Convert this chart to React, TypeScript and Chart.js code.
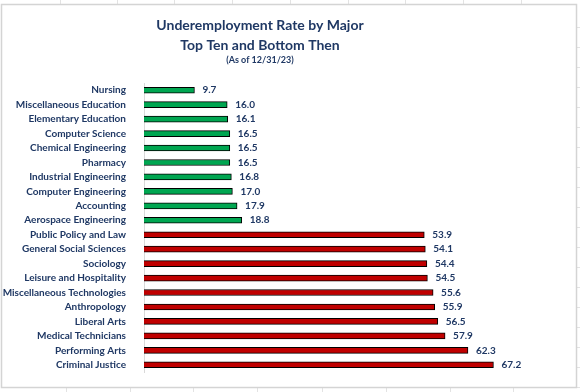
import React, { useEffect, useRef } from "react";
import { Chart, registerables } from "chart.js";

Chart.register(...registerables);

const categories = [
  "Nursing",
  "Miscellaneous Education",
  "Elementary Education",
  "Computer Science",
  "Chemical Engineering",
  "Pharmacy",
  "Industrial Engineering",
  "Computer Engineering",
  "Accounting",
  "Aerospace Engineering",
  "Public Policy and Law",
  "General Social Sciences",
  "Sociology",
  "Leisure and Hospitality",
  "Miscellaneous Technologies",
  "Anthropology",
  "Liberal Arts",
  "Medical Technicians",
  "Performing Arts",
  "Criminal Justice",
];

const values = [
  9.7, 16.0, 16.1, 16.5, 16.5, 16.5, 16.8, 17.0, 17.9, 18.8,
  53.9, 54.1, 54.4, 54.5, 55.6, 55.9, 56.5, 57.9, 62.3, 67.2,
];

const groups = [
  "top", "top", "top", "top", "top", "top", "top", "top", "top", "top",
  "bottom", "bottom", "bottom", "bottom", "bottom", "bottom", "bottom", "bottom", "bottom", "bottom",
];

const titleLines = ["Underemployment Rate by Major", "Top Ten and Bottom Then"];
const subtitleText = "(As of 12/31/23)";

const NAVY = "#1F3864";
const GREEN = "#00A651";
const RED = "#C00000";
const FONT = "Lato";

const backgroundPlugin = {
  id: "sheetBackground",
  beforeDraw(chart: any) {
    const ctx = chart.ctx;
    const w = chart.width;
    const h = chart.height;
    ctx.save();
    ctx.fillStyle = "#ffffff";
    ctx.fillRect(0, 0, w, h);
    ctx.strokeStyle = "#E3E3E3";
    ctx.lineWidth = 1;
    const topCols = [60, 117, 174, 232, 290, 348, 405, 463, 521];
    topCols.forEach((x) => {
      ctx.beginPath();
      ctx.moveTo(x + 0.5, 0);
      ctx.lineTo(x + 0.5, 4);
      ctx.stroke();
    });
    const botCols = [66, 130, 193, 257, 322, 386, 450, 513];
    botCols.forEach((x) => {
      ctx.beginPath();
      ctx.moveTo(x + 0.5, 388);
      ctx.lineTo(x + 0.5, h);
      ctx.stroke();
    });
    for (let y = 27; y < h; y += 20) {
      ctx.beginPath();
      ctx.moveTo(577, y + 0.5);
      ctx.lineTo(w, y + 0.5);
      ctx.stroke();
    }
    ctx.strokeStyle = "#D4D4D4";
    ctx.lineWidth = 1.5;
    ctx.strokeRect(1.5, 4.5, 575, 383);
    ctx.restore();
  },
};

const titlePlugin = {
  id: "customTitle",
  afterDraw(chart: any) {
    const ctx = chart.ctx;
    ctx.save();
    ctx.fillStyle = NAVY;
    ctx.textAlign = "center";
    ctx.textBaseline = "middle";
    ctx.font = `bold 14px ${FONT}`;
    ctx.fillText(titleLines[0], 260, 25);
    ctx.fillText(titleLines[1], 260, 45);
    ctx.font = `bold 9px ${FONT}`;
    ctx.fillText(subtitleText, 260, 60);
    ctx.restore();
  },
};

const valueLabelPlugin = {
  id: "valueLabels",
  afterDatasetsDraw(chart: any) {
    const ctx = chart.ctx;
    const meta = chart.getDatasetMeta(0);
    ctx.save();
    ctx.fillStyle = NAVY;
    ctx.font = `bold 10px ${FONT}`;
    ctx.textAlign = "left";
    ctx.textBaseline = "middle";
    meta.data.forEach((bar: any, i: number) => {
      ctx.fillText(values[i].toFixed(1), bar.x + 8, bar.y);
    });
    ctx.restore();
  },
};

export default function App() {
  const canvasRef = useRef<HTMLCanvasElement>(null);

  useEffect(() => {
    document.body.style.margin = "0";
    const canvas = canvasRef.current;
    if (!canvas) return;
    const chart = new Chart(canvas, {
      type: "bar",
      data: {
        labels: categories,
        datasets: [
          {
            data: values,
            backgroundColor: groups.map((g) => (g === "top" ? GREEN : RED)),
            borderColor: "#000000",
            borderWidth: 1,
            barThickness: 6,
          },
        ],
      },
      options: {
        indexAxis: "y",
        animation: false,
        responsive: false,
        devicePixelRatio: 1,
        layout: { padding: { left: 0, right: 20, top: 83, bottom: 20 } },
        plugins: {
          legend: { display: false },
          title: { display: false },
          tooltip: { enabled: false },
        },
        scales: {
          x: {
            display: false,
            min: 0,
            max: 80,
          },
          y: {
            grid: { display: false },
            border: { display: true, color: "#D9D9D9", width: 1 },
            ticks: {
              color: NAVY,
              font: { family: FONT, weight: "bold", size: 10 },
              padding: 10,
              autoSkip: false,
            },
            afterFit(scale: any) {
              scale.width = 144;
            },
          },
        },
      },
      plugins: [backgroundPlugin, titlePlugin, valueLabelPlugin],
    });
    return () => chart.destroy();
  }, []);

  return (
    <div style={{ width: 580, height: 392 }}>
      <canvas ref={canvasRef} width={580} height={392} style={{ display: "block" }} />
    </div>
  );
}
